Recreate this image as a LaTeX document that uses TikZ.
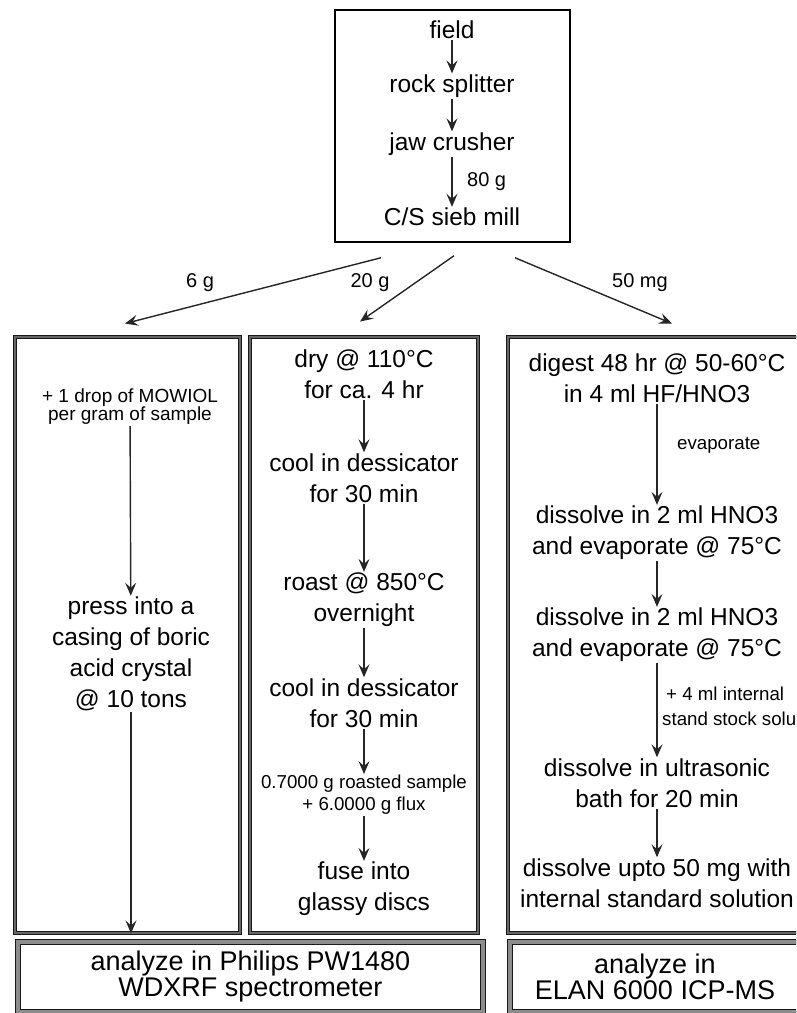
\documentclass[tikz,border=0pt]{standalone}
\usepackage{fontspec}
\setmainfont{Liberation Sans}
\usetikzlibrary{arrows.meta}

\begin{document}
\begin{tikzpicture}[x=1pt, y=-1pt,
  txt/.style={align=center, inner sep=1pt, font=\fontsize{24.5}{31}\selectfont},
  note/.style={align=center, inner sep=1pt, font=\fontsize{18.7}{19}\selectfont},
  lbl/.style={inner sep=1pt, font=\fontsize{20}{22}\selectfont},
  flow/.style={-{Stealth[length=13pt, width=11pt, inset=5pt]}, line width=1.4pt, black!85},
  column/.style={draw=black!90, double=black!60, double distance=2.8pt, line width=0.9pt,
    minimum width=#1, minimum height=596pt, inner sep=0pt},
  result/.style={draw=black!90, double=black!45, double distance=4.5pt, line width=1pt,
    minimum width=#1, minimum height=70pt, inner sep=0pt, align=center,
    font=\fontsize{27}{26}\selectfont}]
  \useasboundingbox (0,0) rectangle (796,1013);
  \clip (0,0) rectangle (796,1013);

  \node[draw, line width=1.5pt, minimum width=235pt, minimum height=232pt] (top) at (452.5,126) {};
  \node[txt] (field) at (452,30) {field};
  \node[txt] (splitter) at (452,86) {rock splitter};
  \node[txt] (crusher) at (452,144) {jaw crusher};
  \node[txt] (mill) at (452,217) {C/S sieb mill};
  \node[lbl, anchor=west] (w80) at (466,182) {80 g};
  \draw[flow] (field) -- (splitter);
  \draw[flow] (splitter) -- (crusher);
  \draw[flow] (crusher) -- (mill);

  \node[column=225pt] (colA) at (127.5,635) {};
  \node[column=228pt] (colB) at (364,635) {};
  \node[column=294pt] (colC) at (655,635) {};

  \draw[flow] ([xshift=-71.5pt, yshift=-15pt]top.south) -- ([xshift=-2.5pt, yshift=13pt]colA.north);
  \draw[flow] ([xshift=1.5pt, yshift=-13pt]top.south) -- ([xshift=-4pt, yshift=15pt]colB.north);
  \draw[flow] ([xshift=62.5pt, yshift=-15pt]top.south) -- ([xshift=17pt, yshift=13pt]colC.north);
  \node[lbl] (w6) at (200,283) {6 g};
  \node[lbl] (w20) at (370,283) {20 g};
  \node[lbl] (w50) at (640,283) {50 mg};

  \node[note, font=\fontsize{19}{18}\selectfont] (mowiol) at (130,407) {+ 1 drop of MOWIOL\\per gram of sample};
  \node[txt] (press) at (131,654) {press into a\\casing of boric\\acid crystal\\@ 10 tons};
  \draw[flow] (mowiol) -- (press);
  \draw[flow] (press) -- (press |- colA.south);

  \node[txt] (dry) at (364,374) {dry @ 110°C\\for ca. 4 hr};
  \node[txt] (cool) at (364,478) {cool in dessicator\\for 30 min};
  \node[txt] (roast) at (364,600) {roast @ 850°C\\overnight};
  \node[txt] (recool) at (364,703) {cool in dessicator\\for 30 min};
  \node[note, font=\fontsize{18.7}{22}\selectfont] (flux) at (364,795) {0.7000 g roasted sample\\+ 6.0000 g flux};
  \node[txt] (fuse) at (364,889) {fuse into\\glassy discs};
  \draw[flow] (dry) -- (cool);
  \draw[flow] (cool) -- (roast);
  \draw[flow] (roast) -- (recool);
  \draw[flow] (recool) -- (flux);
  \draw[flow] (flux) -- (fuse);

  \node[txt] (digest) at (657,378) {digest 48 hr @ 50-60°C\\in 4 ml HF/HNO3};
  \node[txt] (dissolve) at (657,533) {dissolve in 2 ml HNO3\\and evaporate @ 75°C};
  \node[txt] (redissolve) at (657,635) {dissolve in 2 ml HNO3\\and evaporate @ 75°C};
  \node[txt] (ultra) at (657,783) {dissolve in ultrasonic\\bath for 20 min};
  \node[txt] (upto) at (657,883) {dissolve upto 50 mg with\\internal standard solution};
  \node[note, anchor=west] (evap) at (676,445) {evaporate};
  \node[note, align=left, anchor=west, font=\fontsize{18.7}{25}\selectfont] (stock) at (661,706) {\hspace{4pt}+ 4 ml internal\\stand stock solu};
  \draw[flow] (digest) -- (dissolve);
  \draw[flow] (dissolve) -- (redissolve);
  \draw[flow] (redissolve) -- (ultra);
  \draw[flow] (ultra) -- (upto);

  \node[result=465pt] (xrf) at (250.5,977) {analyze in Philips PW1480\\WDXRF spectrometer};
  \node[result=290pt] (icpms) at (655,977) {analyze in\\ELAN 6000 ICP-MS};
\end{tikzpicture}
\end{document}
